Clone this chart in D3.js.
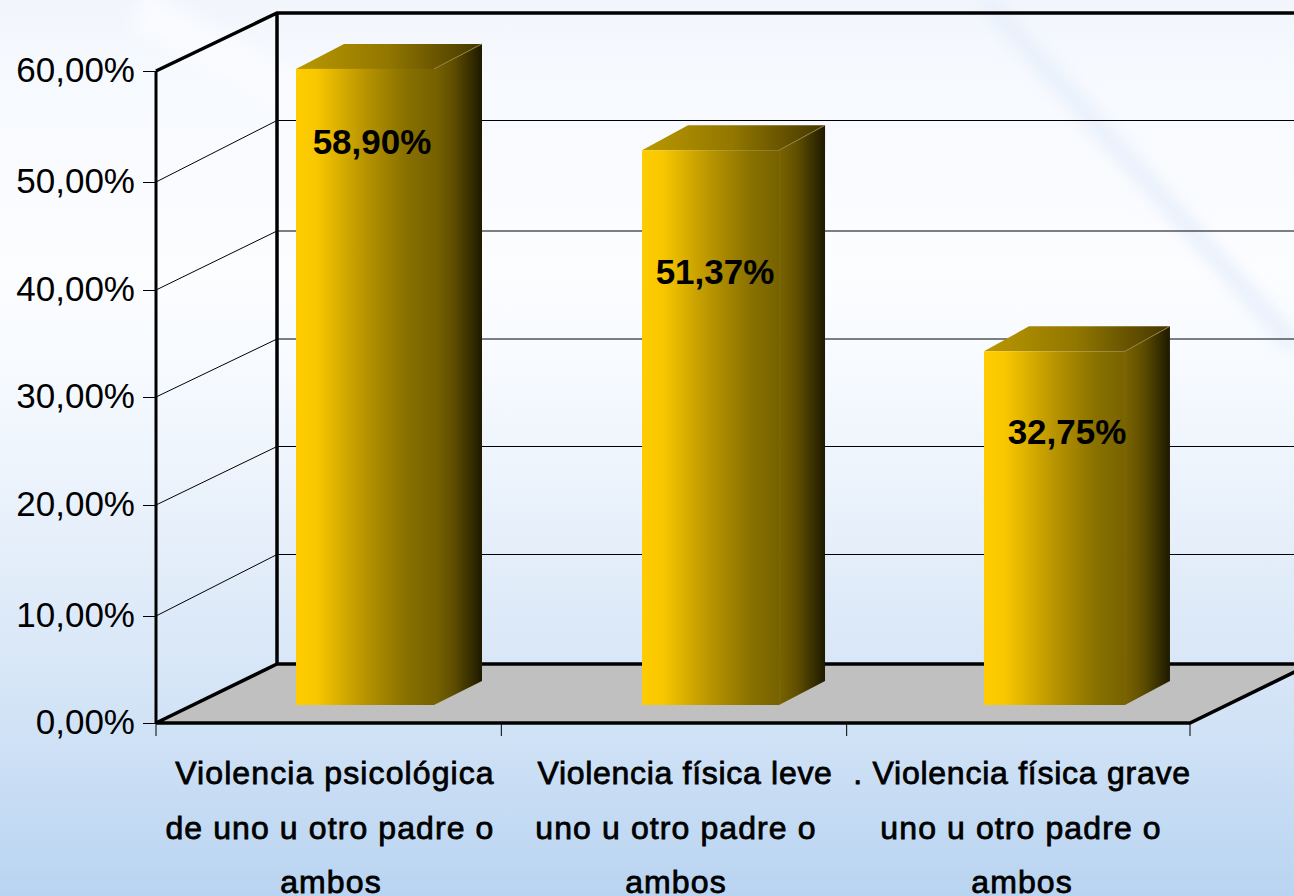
<!DOCTYPE html>
<html><head><meta charset="utf-8">
<script src="https://cdn.jsdelivr.net/npm/d3@7"></script>
<style>html,body{margin:0;padding:0;background:#fff;overflow:hidden}svg{display:block}</style>
</head><body><svg id="c" width="1294" height="896"></svg>
<script>
const categories = [
  ["Violencia psicológica","de uno u otro padre o","ambos"],
  ["Violencia física leve","uno u otro padre o","ambos"],
  [". Violencia física grave","uno u otro padre o","ambos"]
];
const values = [58.90, 51.37, 32.75];
const valueLabels = ["58,90%","51,37%","32,75%"];
const yTicks = [0,10,20,30,40,50,60];
const yTickLabels = ["0,00%","10,00%","20,00%","30,00%","40,00%","50,00%","60,00%"];

// layout
const W=1294,H=896;
const y=d3.scaleLinear().domain(yTicks).range([723,616,505,397,290,182,71]);
const yBack=d3.scaleLinear().domain(yTicks).range([664,554.5,446.5,339,231,120.5,13]);
const x=d3.scaleBand().domain(d3.range(3)).range([156,1192]);
const barH=d3.scaleLinear().domain([0,60]).range([0,648]);
const dx=121, barBase=705, barInset=[140,140.7,137.3], barW=[138,137,141], barDx=[48,46,45], barDy=-24;
const labelOff=[85,134,93], labelCx=[372,715,1067];
const lineShift=[[6.3,1.3,2.3],[11,2,2],[2.7,1.7,2.7]];
const lineSpacing=[[1.1,1.1,1.1],[0.7,1.1,1.1],[0.75,1.1,1.1]];

const svg=d3.select("#c");
const defs=svg.append("defs");
function grad(id,stops,x1=0,x2=1,y1=0,y2=0){
  const g=defs.append("linearGradient").attr("id",id).attr("x1",x1).attr("x2",x2).attr("y1",y1).attr("y2",y2);
  stops.forEach(s=>g.append("stop").attr("offset",s[0]).attr("stop-color",s[1]));
}
grad("bg",[[0,"#f2f6fc"],[0.08,"#f6f9fe"],[0.3,"#fcfdff"],[0.42,"#f6faff"],[0.6,"#e6effa"],[0.8,"#d2e3f6"],[1,"#b9d4f1"]],0,0,0,1);
grad("front",[[0,"#ffcc00"],[0.15,"#f8c700"],[0.5,"#b89400"],[0.8,"#887000"],[1,"#776200"]]);
grad("side",[[0,"#7a6400"],[0.4,"#5f4e00"],[1,"#1e1900"]]);
grad("top",[[0,"#bb9800"],[0.5,"#917600"],[1,"#433600"]]);
defs.append("filter").attr("id","blur").attr("x","-30%").attr("y","-30%").attr("width","160%").attr("height","160%")
  .append("feGaussianBlur").attr("stdDeviation",8);

svg.append("rect").attr("width",W).attr("height",H).attr("fill","url(#bg)");
// faint backdrop streaks
const bgG=svg.append("g").attr("filter","url(#blur)").attr("fill","none");
bgG.append("path").attr("d","M985,0L1294,345").attr("stroke","#e6effb").attr("stroke-width",16);
bgG.append("path").attr("d","M140,10L320,110").attr("stroke","#f9fbfe").attr("stroke-width",40);

const x0=156,x1=1190,line=d3.line();
const yb=y(0),yt=y(60),ybb=yBack(0),ybt=yBack(60);
// floor
svg.append("path").attr("d",line([[x0,yb],[x0+dx,ybb],[x1+dx,ybb],[x1,yb]])+"Z").attr("fill","#c0c0c0");

// gridlines
svg.append("g").selectAll("path").data(yTicks.slice(1,-1)).join("path")
  .attr("d",d=>line([[x0,y(d)],[x0+dx,yBack(d)],[x1+dx,yBack(d)]]))
  .attr("fill","none").attr("stroke","#000").attr("stroke-width",1);

// heavy frame
svg.append("path").attr("fill","none").attr("stroke","#000").attr("stroke-width",3.5)
  .attr("d",line([[x0,yb],[x0+dx,ybb],[x1+dx,ybb]])+line([[x0,yt],[x0+dx,ybt],[x1+dx,ybt]])
    +line([[x0+dx,ybb],[x0+dx,ybt]])+line([[x0,yb],[x1,yb],[x1+dx,ybb]]));
svg.append("path").attr("fill","none").attr("stroke","#000").attr("stroke-width",3).attr("d",line([[x0,yb],[x0,yt]]));

// y axis
const ay=svg.append("g").attr("transform",`translate(${x0},0)`)
  .call(d3.axisLeft(y).tickValues(yTicks).tickFormat((d,i)=>yTickLabels[i]).tickSize(13).tickPadding(8));
ay.select(".domain").remove();
ay.selectAll("line").attr("stroke","#000").attr("stroke-width",1);
ay.selectAll("text").attr("font-family","'Liberation Sans',Arial,sans-serif").attr("font-size",35).attr("fill","#000").attr("dy","0.29em");

// x ticks
svg.append("g").selectAll("line").data(d3.range(4)).join("line")
  .attr("x1",i=>i<3?x(i):x1).attr("x2",i=>i<3?x(i):x1).attr("y1",yb).attr("y2",yb+13)
  .attr("stroke","#000").attr("stroke-width",1);

// bars
const bars=svg.append("g").selectAll("g").data(values).join("g");
const L=(i)=>x(i)+barInset[i];
bars.append("path").attr("fill","url(#top)")
  .attr("d",(d,i)=>{const t=barBase-barH(d),l=L(i),w=barW[i];return line([[l,t],[l+barDx[i],t+barDy-1],[l+w+barDx[i],t+barDy-1],[l+w,t]])+"Z";});
bars.append("path").attr("fill","url(#side)")
  .attr("d",(d,i)=>{const t=barBase-barH(d),r=L(i)+barW[i];return line([[r,t],[r+barDx[i],t+barDy-1],[r+barDx[i],barBase+barDy],[r,barBase]])+"Z";});
bars.append("rect").attr("fill","url(#front)")
  .attr("x",(d,i)=>L(i)).attr("y",d=>barBase-barH(d)).attr("width",(d,i)=>barW[i]).attr("height",d=>barH(d));
bars.append("path").attr("fill","none").attr("stroke","#8f8040").attr("stroke-width",1)
  .attr("d",(d,i)=>{const t=barBase-barH(d),r=L(i)+barW[i];return line([[r,t],[r+barDx[i],t+barDy-1]]);});
bars.append("text").text((d,i)=>valueLabels[i])
  .attr("x",(d,i)=>labelCx[i]).attr("y",(d,i)=>barBase-barH(d)+labelOff[i])
  .attr("text-anchor","middle").attr("font-family","'Liberation Sans',Arial,sans-serif")
  .attr("font-weight","bold").attr("font-size",35).attr("fill","#000");

// category labels
const lineY=[784,839,893];
const cat=svg.append("g").selectAll("g").data(categories).join("g");
cat.each(function(c,i){
  d3.select(this).selectAll("text").data(c).join("text").text(t=>t)
    .attr("x",(t,j)=>x(i)+x.bandwidth()/2+lineShift[i][j]).attr("y",(t,j)=>lineY[j])
    .attr("text-anchor","middle").attr("font-family","'Liberation Sans',Arial,sans-serif")
    .attr("font-size",32).attr("letter-spacing",(t,j)=>lineSpacing[i][j]+"px").attr("fill","#000")
    .attr("stroke","#000").attr("stroke-width",0.8);
});
</script></body></html>
